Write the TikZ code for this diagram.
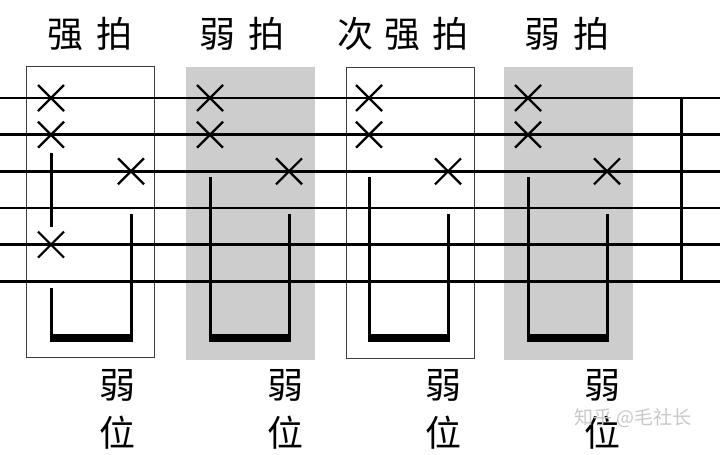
\documentclass[tikz,border=0pt]{standalone}
\usepackage{fontspec}
\newfontfamily\kai{Noto Sans CJK SC}
\newfontfamily\cjksans{Noto Sans CJK SC}
\definecolor{shade}{RGB}{205,205,205}
\definecolor{boxline}{RGB}{60,60,60}
\definecolor{wmark}{RGB}{200,200,200}
\tikzset{
  staffline/.style={line width=2.8pt, black},
  xstroke/.style={line width=2.2pt, black},
  stemline/.style={line width=3pt, black},
  beamline/.style={line width=7.5pt, black},
  whitebox/.style={draw=boxline, line width=1pt, fill=white},
  graybox/.style={fill=shade, draw=none},
  toplabel/.style={font=\kai\fontsize{36}{40}\selectfont, inner sep=0pt},
  botlabel/.style={font=\kai\fontsize{36}{48}\selectfont, align=center, inner sep=0pt},
}
\newcommand\xm[2]{\draw[xstroke] ({#1-13},{#2-13}) -- ({#1+13},{#2+13}) ({#1-13},{#2+13}) -- ({#1+13},{#2-13});}
\begin{document}
\begin{tikzpicture}[x=1pt,y=-1pt]
\useasboundingbox (0,0) rectangle (720,455);
% boxes
\draw[whitebox] (26,66) rectangle (154,357);
\fill[graybox] (186,67) rectangle (315,360);
\draw[whitebox] (346,67) rectangle (474,358);
\fill[graybox] (504,67) rectangle (633,360);
% staff lines
\foreach \y in {98,134.7,171.3,208,244.6,281.2}
  \draw[staffline] (0,\y) -- (720,\y);
% bar line
\draw[stemline] (681,98) -- (681,281.2);
% box 1
\xm{51}{98}\xm{51}{134.7}\xm{51}{244.6}\xm{131}{171.3}
\draw[stemline] (51,153) -- (51,227);
\draw[stemline] (51,288) -- (51,338);
\draw[stemline] (131,214) -- (131,338);
\draw[beamline] (49.5,338) -- (132.5,338);
% box 2
\xm{210}{98}\xm{210}{134.7}\xm{289}{171.3}
\draw[stemline] (210,177) -- (210,338);
\draw[stemline] (289,214) -- (289,338);
\draw[beamline] (208.5,338) -- (290.5,338);
% box 3
\xm{369}{98}\xm{369}{134.7}\xm{448}{171.3}
\draw[stemline] (369,177) -- (369,338);
\draw[stemline] (448,214) -- (448,338);
\draw[beamline] (367.5,338) -- (449.5,338);
% box 4
\xm{528}{98}\xm{528}{134.7}\xm{607}{171.3}
\draw[stemline] (528,177) -- (528,338);
\draw[stemline] (607,214) -- (607,338);
\draw[beamline] (526.5,338) -- (608.5,338);
% top labels
\node[toplabel] (t1) at (90,34) {强\hspace{13pt}拍};
\node[toplabel] (t2) at (242,34) {弱\hspace{13pt}拍};
\node[toplabel] (t3) at (403,34) {次\hspace{12pt}强\hspace{12pt}拍};
\node[toplabel] (t4) at (567,34) {弱\hspace{13pt}拍};
% bottom labels
\node[botlabel] (b1) at (117,409) {弱\\位};
\node[botlabel] (b2) at (285,409) {弱\\位};
\node[botlabel] (b3) at (443,409) {弱\\位};
\node[botlabel] (b4) at (602,409) {弱\\位};
% watermark
\node[font=\cjksans\fontsize{19}{22}\selectfont, text=wmark, inner sep=0pt] (wm) at (633,418) {知乎 @毛社长};
\end{tikzpicture}
\end{document}
